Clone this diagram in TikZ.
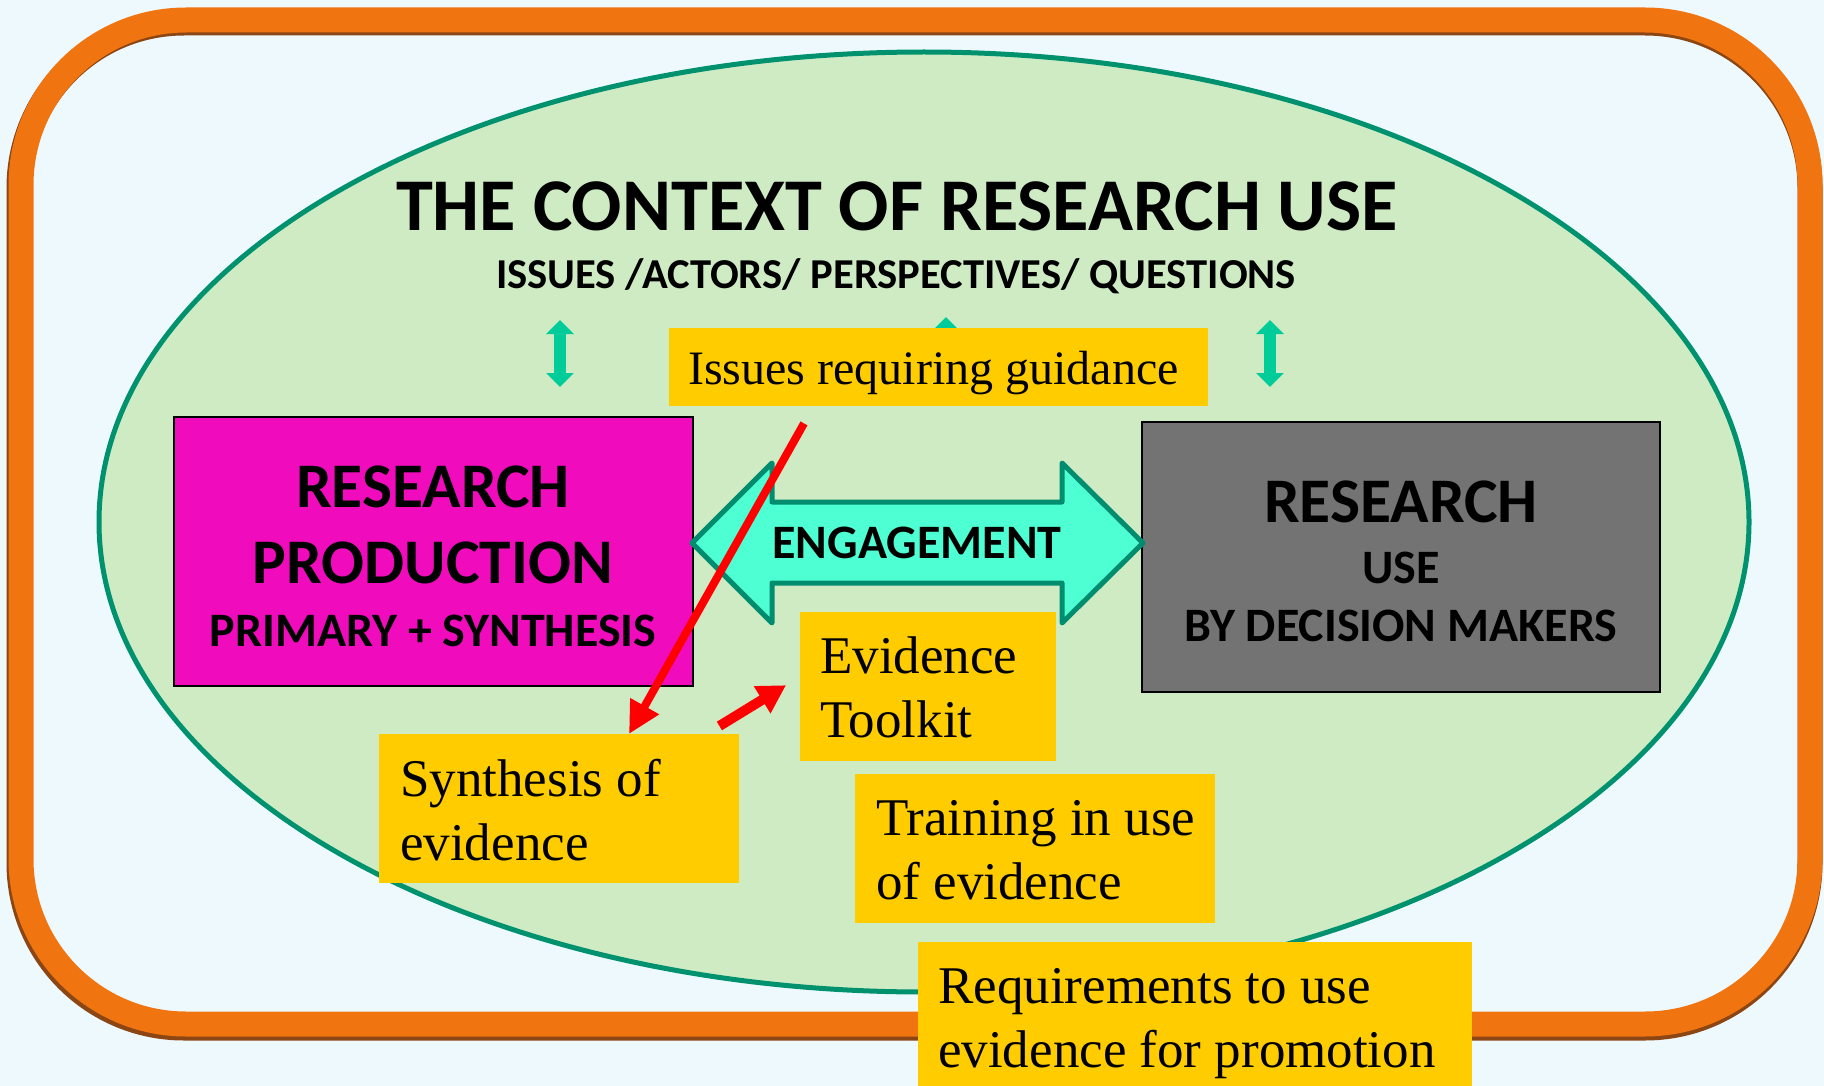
\documentclass[tikz,border=0pt]{standalone}
\usepackage{fontspec}
\setmainfont{Liberation Serif}
\newfontfamily\calib{Carlito}
\usetikzlibrary{arrows.meta,calc,shapes.geometric}
\definecolor{bgc}{RGB}{238,249,254}
\definecolor{framec}{RGB}{240,116,16}
\definecolor{shadowc}{RGB}{140,70,20}
\definecolor{ellfill}{RGB}{207,235,196}
\definecolor{ellline}{RGB}{0,146,110}
\definecolor{magentac}{RGB}{240,12,188}
\definecolor{greyc}{RGB}{115,115,115}
\definecolor{engfill}{RGB}{77,255,210}
\definecolor{engline}{RGB}{0,140,110}
\definecolor{smallarr}{RGB}{0,204,153}
\definecolor{goldc}{RGB}{255,204,0}
\tikzset{
  goldbox/.style={fill=goldc, draw=none, inner sep=0pt, anchor=north west},
  boxtext/.style={anchor=base west, inner sep=0pt, font=\fontsize{53}{64}\selectfont},
  mainbox/.style={draw=black, line width=2, inner sep=0pt},
  sansbig/.style={anchor=base, inner sep=0pt, font=\calib\bfseries\fontsize{63.5}{70}\selectfont},
  sanssmall/.style={anchor=base, inner sep=0pt, font=\calib\bfseries\fontsize{48}{55}\selectfont},
  vdouble/.style={draw=smallarr, line width=12, {Triangle[length=14pt,width=27pt]}-{Triangle[length=14pt,width=27pt]}},
  redarrow/.style={draw=red, line width=8, -{Triangle[length=32pt,width=31pt]}},
  redblock/.style={draw=red, line width=10, -{Triangle[length=28pt,width=30pt]}}
}
\begin{document}
\begin{tikzpicture}[x=1pt,y=-1pt]
\useasboundingbox (0,0) rectangle (1824,1086);
\fill[bgc] (0,0) rectangle (1824,1086);
% frame
\draw[shadowc, line width=25, rounded corners=165] (19,23) rectangle (1810,1028);
\draw[framec, line width=25, rounded corners=165] (21,20) rectangle (1810,1024);
% context ellipse
\node[ellipse, draw=ellline, fill=ellfill, line width=5, minimum width=1650, minimum height=940, inner sep=0pt] (ctx) at (924,522) {};
% titles
\node[anchor=base, inner sep=0pt, font=\calib\bfseries\fontsize{74.4}{80}\selectfont] (title) at (897,231) {THE CONTEXT OF RESEARCH USE};
\node[anchor=base, inner sep=0pt, font=\calib\bfseries\fontsize{42.6}{48}\selectfont] (sub) at (896,289) {ISSUES /ACTORS/ PERSPECTIVES/ QUESTIONS};
% small double arrows
\coordinate (la1) at (560,320); \coordinate (la2) at (560,387);
\coordinate (ma1) at (946,317); \coordinate (ma2) at (946,387);
\coordinate (ra1) at (1270,320); \coordinate (ra2) at (1270,387);
\draw[vdouble] (la1) -- (la2);
\draw[vdouble] (ma1) -- (ma2);
\draw[vdouble] (ra1) -- (ra2);
% research production
\node[mainbox, fill=magentac, minimum width=519, minimum height=269] (prod) at (433.5,551.5) {};
\node[sansbig] (prodA) at (433,507) {RESEARCH};
\node[sansbig] (prodB) at (433,583) {PRODUCTION};
\node[sanssmall] (prodC) at (433,646) {PRIMARY + SYNTHESIS};
% research use
\node[mainbox, fill=greyc, minimum width=518, minimum height=270] (use) at (1401,557) {};
\node[sansbig] (useA) at (1401,522) {RESEARCH};
\node[sanssmall] (useB) at (1401,583) {USE};
\node[sanssmall] (useC) at (1401,641) {BY DECISION MAKERS};
% engagement
\draw[engline, fill=engfill, line width=5, line join=round]
  (692,543) -- (772,463) -- (772,502) -- (1062,502) -- (1062,463) -- (1143,543)
  -- (1062,623) -- (1062,583) -- (772,583) -- (772,623) -- cycle;
\node[anchor=base, inner sep=0pt, font=\calib\bfseries\fontsize{48}{52}\selectfont] (eng) at (917,558) {ENGAGEMENT};
% issues box
\node[goldbox, minimum width=539, minimum height=78] (issues) at (669,328) {};
\node[anchor=base west, inner sep=0pt, font=\fontsize{48}{58}\selectfont] (issuesT) at (688,384) {Issues requiring guidance};
% gold text boxes
\node[goldbox, minimum width=256, minimum height=149] (tool) at (800,612) {};
\node[boxtext] (toolT) at (820,673) {\begin{tabular}[t]{@{}l@{}}Evidence\\Toolkit\end{tabular}};
\node[goldbox, minimum width=360, minimum height=149] (synth) at (379,734) {};
\node[boxtext] (synthT) at (400,796) {\begin{tabular}[t]{@{}l@{}}Synthesis of\\evidence\end{tabular}};
\node[goldbox, minimum width=360, minimum height=149] (train) at (855,774) {};
\node[boxtext] (trainT) at (876,835) {\begin{tabular}[t]{@{}l@{}}Training in use\\of evidence\end{tabular}};
\node[goldbox, minimum width=554, minimum height=160] (req) at (918,942) {};
\node[boxtext] (reqT) at (938,1003) {\begin{tabular}[t]{@{}l@{}}Requirements to use\\evidence for promotion\end{tabular}};
% red arrows
\draw[redarrow] ($(issues.south west)+(135,17)$) -- ($(synth.north west)+(250,0)$);
\draw[redblock] ($(synth.north east)+(-20,-8)$) -- ($(tool.west)+(-14,-1.5)$);
\end{tikzpicture}
\end{document}
